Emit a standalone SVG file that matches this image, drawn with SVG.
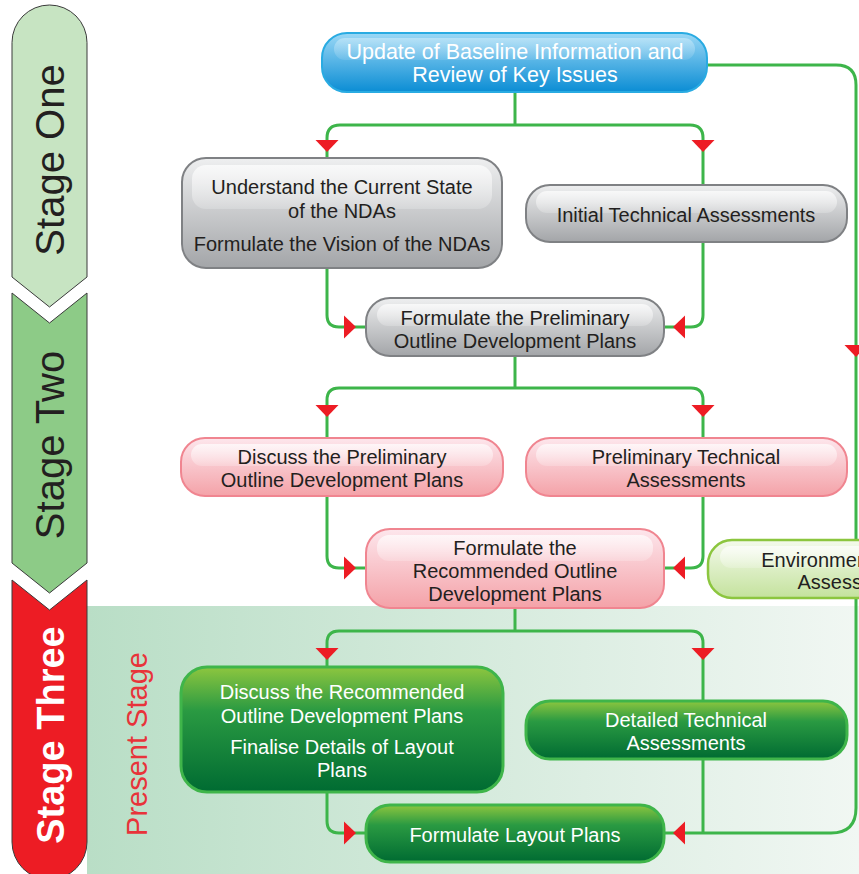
<svg xmlns="http://www.w3.org/2000/svg" xmlns:xlink="http://www.w3.org/1999/xlink" width="859" height="874" viewBox="0 0 859 874">
<style>
text{font-family:"Liberation Sans",Arial,sans-serif;text-anchor:middle}
.t{font-size:20px;fill:#231f20}
.w{font-size:20px;fill:#ffffff}
.con{fill:none;stroke:#3db54a;stroke-width:3}
.arr{fill:#ed1c24}
.gray{fill:url(#gGray);stroke:#7f8184;stroke-width:2}
.pink{fill:url(#gPink);stroke:#f08590;stroke-width:2}
.green{fill:url(#gGreen);stroke:#3fb54a;stroke-width:3}
.blue{fill:url(#gBlue);stroke:#29abe2;stroke-width:2}
.lime{fill:url(#gLime);stroke:#8cc63f;stroke-width:2.5}
.hl{fill:url(#gHl)}
.stage{stroke:#3a3a3a;stroke-width:1}
</style>
<defs>
<linearGradient id="gBg" x1="0" y1="0" x2="1" y2="0"><stop offset="0" stop-color="#b9dec6"/><stop offset="1" stop-color="#f1f7f3"/></linearGradient>
<linearGradient id="gGray" x1="0" y1="0" x2="0" y2="1"><stop offset="0" stop-color="#eeeff0"/><stop offset="1" stop-color="#a3a5a8"/></linearGradient>
<linearGradient id="gPink" x1="0" y1="0" x2="0" y2="1"><stop offset="0" stop-color="#fde6ec"/><stop offset="1" stop-color="#f4a2a8"/></linearGradient>
<linearGradient id="gGreen" x1="0" y1="0" x2="0" y2="1"><stop offset="0" stop-color="#8dc63f"/><stop offset="0.35" stop-color="#2a9a42"/><stop offset="1" stop-color="#006b32"/></linearGradient>
<linearGradient id="gBlue" x1="0" y1="0" x2="0" y2="1"><stop offset="0" stop-color="#9bd8f6"/><stop offset="1" stop-color="#0b8dd4"/></linearGradient>
<linearGradient id="gLime" x1="0" y1="0" x2="0" y2="1"><stop offset="0" stop-color="#f4faec"/><stop offset="1" stop-color="#c4e29d"/></linearGradient>
<linearGradient id="gHl" x1="0" y1="0" x2="0" y2="1"><stop offset="0" stop-color="#ffffff" stop-opacity="0.7"/><stop offset="1" stop-color="#ffffff" stop-opacity="0.2"/></linearGradient>
<polygon id="arrD" points="-11.5,-6 11.5,-6 0,6"/>
</defs>

<rect x="87" y="606" width="772" height="268" fill="url(#gBg)"/>

<g id="stage-one">
<path class="stage" fill="#c7e4c2" d="M12,42.5 A37.5,37.5 0 0 1 87,42.5 L87,277 L49.5,307 L12,277 Z"/>
<text transform="translate(64,160) rotate(-90)" style="font-size:40px;fill:#231f20">Stage One</text>
</g>
<g id="stage-two">
<path class="stage" fill="#8dcb87" d="M12,293 L49.5,323 L87,293 L87,563 L49.5,593 L12,563 Z"/>
<text transform="translate(64,445) rotate(-90)" style="font-size:40px;fill:#231f20">Stage Two</text>
</g>
<g id="stage-three">
<path class="stage" fill="#ed1c24" d="M12,580 L49.5,610 L87,580 L87,842 A37.5,37.5 0 0 1 12,842 Z"/>
<text transform="translate(64,735) rotate(-90)" style="font-size:38px;font-weight:bold;fill:#ffffff">Stage Three</text>
</g>
<g id="present-stage">
<text transform="translate(147,744) rotate(-90)" style="font-size:29px;fill:#e8333a">Present Stage</text>
</g>

<g id="connectors">
<path class="con" d="M515,92 V125"/>
<path class="con" d="M327,158 V138 Q327,125 340,125 H690 Q703,125 703,138 V185"/>
<path class="con" d="M327,268 V315 Q327,327 339,327 H366"/>
<path class="con" d="M703,242 V315 Q703,327 691,327 H664"/>
<path class="con" d="M515,356 V388"/>
<path class="con" d="M327,438 V400 Q327,388 339,388 H691 Q703,388 703,400 V438"/>
<path class="con" d="M327,496 V556 Q327,568 339,568 H366"/>
<path class="con" d="M703,496 V556 Q703,568 691,568 H664"/>
<path class="con" d="M515,608 V631"/>
<path class="con" d="M327,667 V643 Q327,631 339,631 H691 Q703,631 703,643 V701"/>
<path class="con" d="M327,792 V821 Q327,833 339,833 H366"/>
<path class="con" d="M703,759 V833"/>
<path class="con" d="M707,65 H836 Q856,65 856,85 V808 Q856,833 831,833 H664"/>
<use class="arr" xlink:href="#arrD" transform="translate(327,146)"/>
<use class="arr" xlink:href="#arrD" transform="translate(703,146)"/>
<use class="arr" xlink:href="#arrD" transform="translate(350,327) rotate(-90)"/>
<use class="arr" xlink:href="#arrD" transform="translate(679,327) rotate(90)"/>
<use class="arr" xlink:href="#arrD" transform="translate(327,411)"/>
<use class="arr" xlink:href="#arrD" transform="translate(703,411)"/>
<use class="arr" xlink:href="#arrD" transform="translate(350,568) rotate(-90)"/>
<use class="arr" xlink:href="#arrD" transform="translate(679,568) rotate(90)"/>
<use class="arr" xlink:href="#arrD" transform="translate(327,654)"/>
<use class="arr" xlink:href="#arrD" transform="translate(703,654)"/>
<use class="arr" xlink:href="#arrD" transform="translate(350,833) rotate(-90)"/>
<use class="arr" xlink:href="#arrD" transform="translate(679,833) rotate(90)"/>
<use class="arr" xlink:href="#arrD" transform="translate(856,351)"/>
</g>

<g id="n-update">
<rect class="blue" x="322" y="33" width="385" height="59" rx="25"/>
<rect class="hl" x="334" y="38" width="361" height="22" rx="11" opacity="0.5"/>
<text class="w" x="515" y="59" style="font-size:21.5px">Update of Baseline Information and</text>
<text class="w" x="515" y="82" style="font-size:21.5px">Review of Key Issues</text>
</g>

<g id="n-understand">
<rect class="gray" x="182" y="158" width="320" height="110" rx="24"/>
<rect class="hl" x="192" y="165" width="300" height="44" rx="14"/>
<text class="t" x="342" y="194">Understand the Current State</text>
<text class="t" x="342" y="218">of the NDAs</text>
<text class="t" x="342" y="251">Formulate the Vision of the NDAs</text>
</g>

<g id="n-initial">
<rect class="gray" x="526" y="185" width="321" height="57" rx="24"/>
<rect class="hl" x="536" y="191" width="301" height="22" rx="11"/>
<text class="t" x="686" y="222">Initial Technical Assessments</text>
</g>

<g id="n-prelim">
<rect class="gray" x="366" y="298" width="298" height="58" rx="24"/>
<rect class="hl" x="377" y="304" width="276" height="22" rx="11"/>
<text class="t" x="515" y="325">Formulate the Preliminary</text>
<text class="t" x="515" y="348">Outline Development Plans</text>
</g>

<g id="n-discuss-prelim">
<rect class="pink" x="181" y="438" width="322" height="58" rx="24"/>
<rect class="hl" x="191" y="444" width="302" height="22" rx="11"/>
<text class="t" x="342" y="464">Discuss the Preliminary</text>
<text class="t" x="342" y="487">Outline Development Plans</text>
</g>

<g id="n-prelim-tech">
<rect class="pink" x="526" y="438" width="321" height="58" rx="24"/>
<rect class="hl" x="536" y="444" width="301" height="22" rx="11"/>
<text class="t" x="686" y="464">Preliminary Technical</text>
<text class="t" x="686" y="487">Assessments</text>
</g>

<g id="n-recommended">
<rect class="pink" x="366" y="529" width="298" height="79" rx="24"/>
<rect class="hl" x="377" y="535" width="276" height="26" rx="12"/>
<text class="t" x="515" y="555">Formulate the</text>
<text class="t" x="515" y="578">Recommended Outline</text>
<text class="t" x="515" y="601">Development Plans</text>
</g>

<g id="n-environmental">
<rect class="lime" x="708" y="540" width="300" height="58" rx="24"/>
<rect class="hl" x="720" y="546" width="280" height="22" rx="11"/>
<text class="t" x="858" y="567">Environmental Impact</text>
<text class="t" x="852" y="589">Assessment</text>
</g>

<g id="n-discuss-rec">
<rect class="green" x="181" y="667" width="322" height="125" rx="26"/>
<text class="w" x="342" y="699">Discuss the Recommended</text>
<text class="w" x="342" y="723">Outline Development Plans</text>
<text class="w" x="342" y="754">Finalise Details of Layout</text>
<text class="w" x="342" y="777">Plans</text>
</g>

<g id="n-detailed">
<rect class="green" x="526" y="701" width="321" height="58" rx="24"/>
<text class="w" x="686" y="727">Detailed Technical</text>
<text class="w" x="686" y="750">Assessments</text>
</g>

<g id="n-layout">
<rect class="green" x="366" y="805" width="298" height="57" rx="24"/>
<text class="w" x="515" y="842">Formulate Layout Plans</text>
</g>
</svg>
